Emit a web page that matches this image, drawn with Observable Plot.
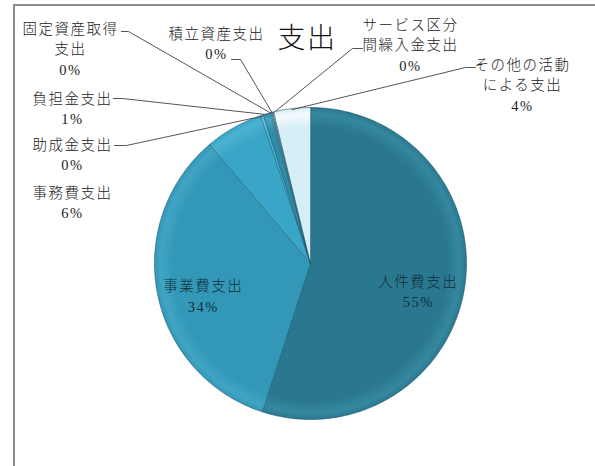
<!DOCTYPE html>
<html><head><meta charset="utf-8">
<script src="https://cdn.jsdelivr.net/npm/d3@7"></script>
<script src="https://cdn.jsdelivr.net/npm/@observablehq/plot@0.6"></script>
<style>
body{margin:0;background:#fff;}
#wrap{position:relative;width:595px;height:466px;overflow:hidden;}
#frame{position:absolute;left:13px;top:4px;width:700px;height:600px;border-left:2px solid #8d8d8d;border-top:2px solid #8d8d8d;}
#chart{position:absolute;left:0;top:0;}
#chart text{letter-spacing:1.5px;}
</style></head><body>
<div id="wrap"><div id="frame"></div><div id="chart"></div></div>
<script>
// ---- data ----
const title = "支出";
const categories = ["人件費支出","事業費支出","事務費支出","助成金支出","負担金支出","固定資産取得支出","積立資産支出","サービス区分間繰入金支出","その他の活動による支出"];
const values = [55.0, 33.8, 6.0, 0.3, 0.8, 0.1, 0.1, 0.1, 3.8];
const percentLabels = values.map(v => Math.round(v) + "%");

// ---- styles / layout ----
const colors = ["#2a7890","#3398b8","#3aa6c7","#45b6da","#2f8ca8","#6fc3dc","#8fb6c2","#a9ccd6","#d6eef6"];
const rims   = ["#35889f","#41a4c3","#4cb2d2","#6cc8e6","#49a3bf","#8fd2e6","#a6c8d2","#c0dde5","#f4fbfd"];
const W = 595, H = 466, cx = 310, cy = 263, R = 156;
const insideLabels = new Set(["人件費支出","事業費支出"]);
const labelLayout = {
  "事務費支出":           {x: 72,  y: 201, lines: ["事務費支出"]},
  "助成金支出":           {x: 72,  y: 153, lines: ["助成金支出"], lead: [[114,145],[126,145]]},
  "負担金支出":           {x: 72,  y: 107, lines: ["負担金支出"], lead: [[113,98],[122,98]]},
  "固定資産取得支出":     {x: 70,  y: 47,  lines: ["固定資産取得","支出"], lead: [[121,31],[128,31]]},
  "積立資産支出":         {x: 216, y: 42,  lines: ["積立資産支出"], lead: [[231,59],[240,59]]},
  "サービス区分間繰入金支出": {x: 410, y: 43, lines: ["サービス区分","間繰入金支出"], lead: [[362,48],[352,48]]},
  "その他の活動による支出": {x: 522, y: 83, lines: ["その他の活動","による支出"], lead: [[475,67],[465,67]]}
};

// ---- geometry from data ----
const arcs = d3.pie().sort(null).value(d => d)(values);
const pt = (a, r) => [cx + r * Math.sin(a), cy - r * Math.cos(a)];
const slices = [];
arcs.forEach((a, i) => {
  const name = categories[i];
  slices.push({name, x: cx, y: cy});
  const n = Math.max(2, Math.ceil((a.endAngle - a.startAngle) / (Math.PI / 180)));
  for (let k = 0; k <= n; k++) {
    const [x, y] = pt(a.startAngle + (a.endAngle - a.startAngle) * k / n, R);
    slices.push({name, x, y});
  }
});
const labelsIn = [], labelsOut = [], leaders = [];
arcs.forEach((a, i) => {
  const name = categories[i];
  const mid = (a.startAngle + a.endAngle) / 2;
  if (insideLabels.has(name)) {
    const [x, y] = pt(mid, R * 0.7);
    labelsIn.push({x, y: y + 10, text: name + "\n" + percentLabels[i]});
  } else {
    const L = labelLayout[name];
    labelsOut.push({x: L.x, y: L.y, text: L.lines.join("\n") + "\n" + percentLabels[i]});
    if (L.lead) {
      const [ex, ey] = pt(mid, R - 1);
      [...L.lead, [ex, ey]].forEach(([x, y]) => leaders.push({name, x, y}));
    }
  }
});
const gradIds = categories.map((c, i) => `url(#g${i})`);

const font = "'Liberation Serif','Noto Sans CJK JP',serif";
const plot = Plot.plot({
  width: W, height: H, margin: 0,
  x: {domain: [0, W], range: [0, W], axis: null},
  y: {domain: [0, H], range: [0, H], axis: null},
  color: {domain: categories, range: gradIds},
  style: {background: "transparent"},
  marks: [
    Plot.line(slices, {x: "x", y: "y", z: "name", fill: "name", stroke: "#1c5568", strokeWidth: 0.8, strokeOpacity: 0.7, curve: "linear-closed"}),
    Plot.line(leaders, {x: "x", y: "y", z: "name", stroke: "#555", strokeWidth: 1}),
    Plot.text(labelsIn, {x: "x", y: "y", text: "text", fontSize: 14.5, fontWeight: 300, lineHeight: 1.42, fill: "#10303a", fontFamily: font}),
    Plot.text(labelsOut, {x: "x", y: "y", text: "text", fontSize: 14.5, fontWeight: 300, lineHeight: 1.42, fill: "#222", fontFamily: font}),
    Plot.text([title], {frameAnchor: "top", dx: 9, dy: 28, text: d => d, fontSize: 28, fontWeight: 300, fill: "#111", fontFamily: "'Noto Sans CJK JP',sans-serif"})
  ]
});
const svg = d3.select(plot);
const defs = svg.insert("defs", ":first-child");
categories.forEach((c, i) => {
  const g = defs.append("radialGradient").attr("id", "g" + i)
    .attr("gradientUnits", "userSpaceOnUse").attr("cx", cx).attr("cy", cy).attr("r", R);
  g.append("stop").attr("offset", "0%").attr("stop-color", colors[i]);
  g.append("stop").attr("offset", "88%").attr("stop-color", colors[i]);
  g.append("stop").attr("offset", "96%").attr("stop-color", rims[i]);
  g.append("stop").attr("offset", "100%").attr("stop-color", colors[i]);
});
document.getElementById("chart").appendChild(plot);
</script>
</body></html>
